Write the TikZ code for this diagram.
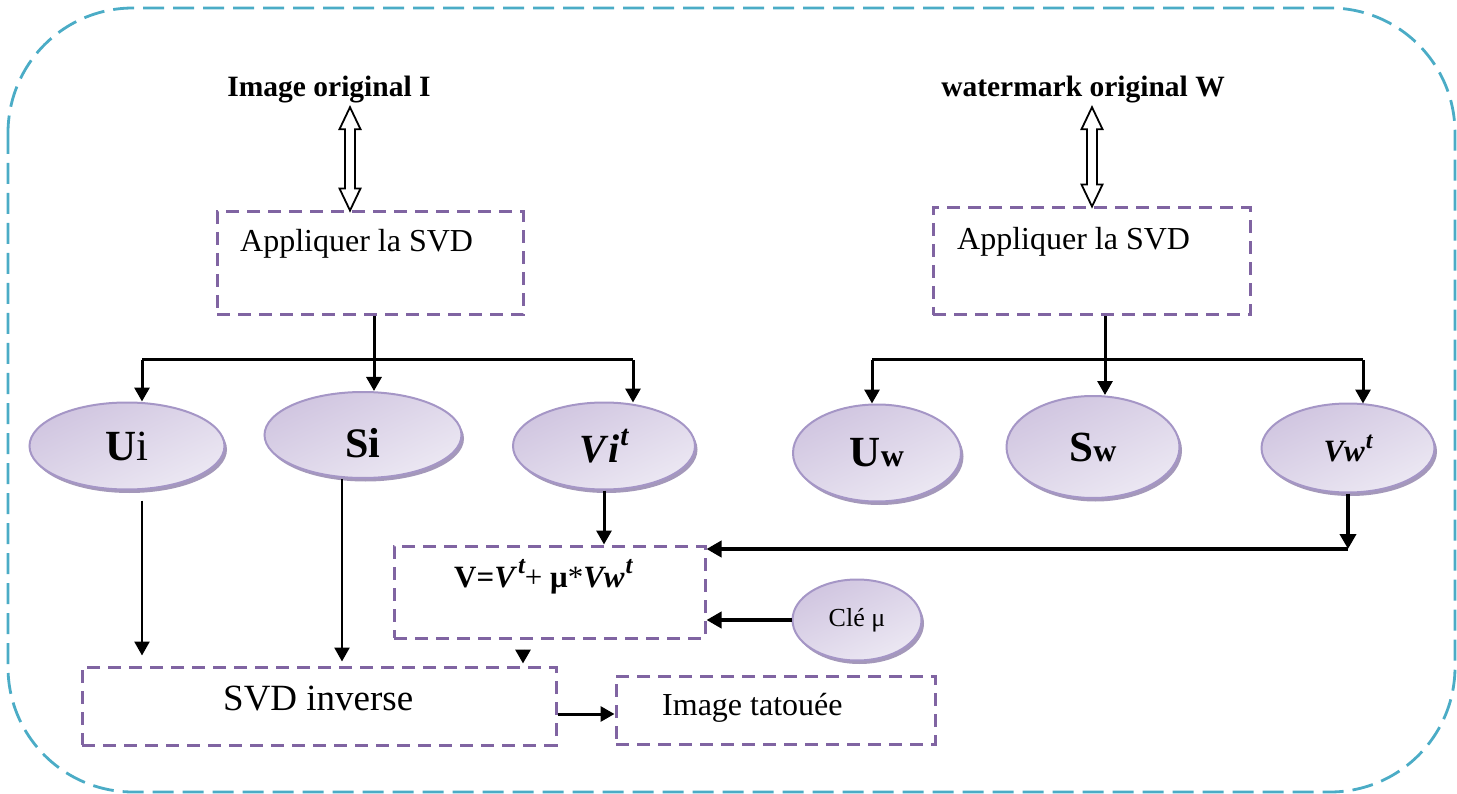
\documentclass[tikz,border=0pt]{standalone}
\usepackage{fontspec}
\setmainfont{Liberation Serif}
\usetikzlibrary{arrows.meta,shapes.geometric,shadows,calc}
\definecolor{frameblue}{HTML}{4BACC6}
\definecolor{boxpurple}{HTML}{8064A2}
\definecolor{elltop}{HTML}{D0C5E0}
\definecolor{ellbot}{HTML}{ECE8F3}
\definecolor{elledge}{HTML}{A596C6}
\definecolor{ellshade}{HTML}{9A8DB2}

% hollow double-headed arrow between two points (top, bottom)
\newcommand\hollowdbl[2]{%
  \draw[hollow] let \p1=#1, \p2=#2 in
    (\x1,\y1) -- (\x1+10.5pt,\y1-22pt) -- (\x1+5pt,\y1-22pt)
    -- (\x1+5pt,\y2+22pt) -- (\x1+10.5pt,\y2+22pt) -- (\x1,\y2)
    -- (\x1-10.5pt,\y2+22pt) -- (\x1-5pt,\y2+22pt)
    -- (\x1-5pt,\y1-22pt) -- (\x1-10.5pt,\y1-22pt) -- cycle;}
% bold italic superscript t
\newcommand\supt[1]{\raisebox{0.42em}{\fontsize{#1}{#1}\selectfont\bfseries\itshape t}}

\begin{document}
\begin{tikzpicture}[x=1pt,y=-1pt,
  headtxt/.style={font=\fontsize{29.5}{34}\selectfont\bfseries, inner sep=3.5pt},
  boxtxt/.style={font=\fontsize{32}{38}\selectfont, inner sep=0pt},
  stepbox/.style={draw=boxpurple, line width=3pt, dash pattern=on 13pt off 8pt, inner sep=0pt},
  svdell/.style={ellipse, draw=elledge, line width=2pt, inner sep=0pt,
    top color=elltop, bottom color=ellbot, shading angle=25,
    drop shadow={shadow xshift=2.5pt, shadow yshift=-3.5pt, fill=ellshade, opacity=0.9}},
  bus/.style={line width=3pt},
  arr/.style={line width=3pt, -{Triangle[width=15pt,length=14pt]}},
  thinarr/.style={line width=2.5pt, -{Triangle[width=15pt,length=14pt]}},
  thickarr/.style={line width=4pt, -{Triangle[width=16pt,length=15pt]}},
  hollow/.style={line width=1.8pt, draw=black, fill=white, line join=miter}]

\useasboundingbox (0,0) rectangle (1457,794);

% outer frame
\draw[frameblue, line width=2.8pt, dash pattern=on 21pt off 9pt, rounded corners=125pt]
  (8,8) rectangle (1455,792);

% inputs
\node[headtxt, anchor=base] (t1) at (329,97) {Image original I};
\node[headtxt, anchor=base] (t2) at (1083,97) {watermark original W};

% SVD boxes
\node[stepbox, minimum width=306pt, minimum height=103pt] (b1) at (370,263.5) {};
\node[boxtxt, anchor=base west] (b1t) at (240,252) {Appliquer la SVD};
\node[stepbox, minimum width=317pt, minimum height=107pt] (b2) at (1091.5,261.5) {};
\node[boxtxt, anchor=base west] (b2t) at (957,250) {Appliquer la SVD};

\coordinate (ax1) at (350,0);
\coordinate (ax2) at (1092,0);
\hollowdbl{(t1.south -| ax1)}{(b1.north -| ax1)}
\hollowdbl{(t2.south -| ax2)}{(b2.north -| ax2)}

% decomposition of the image
\node[svdell, minimum width=195pt, minimum height=87pt] (ui) at (127,446)
  {\fontsize{43}{50}\selectfont\textbf{U}i};
\node[svdell, minimum width=197pt, minimum height=86pt] (si) at (363,435)
  {\raisebox{-8pt}[\height][\depth]{\fontsize{42}{48}\selectfont\bfseries Si}};
\node[svdell, minimum width=182pt, minimum height=87pt] (vi) at (604,446)
  {\fontsize{40}{46}\selectfont\bfseries\itshape V\kern2pt i\kern1pt\supt{29}};

% decomposition of the watermark
\node[svdell, minimum width=168pt, minimum height=97pt] (uw) at (877,453)
  {\fontsize{43}{50}\selectfont\textbf{U}{\fontsize{32}{38}\selectfont\bfseries w}};
\node[svdell, minimum width=173pt, minimum height=102pt] (sw) at (1093,447)
  {\fontsize{43}{50}\selectfont\textbf{S}{\fontsize{32}{38}\selectfont\bfseries w}};
\node[svdell, minimum width=173pt, minimum height=89pt] (vw) at (1348,448)
  {\fontsize{31}{36}\selectfont\bfseries\itshape Vw\kern1pt\supt{24}};

% embedding and reconstruction
\node[stepbox, minimum width=311pt, minimum height=92pt] (vbox) at (549.5,592) {};
\node[anchor=base west, inner sep=0pt, font=\fontsize{31}{36}\selectfont] (vf) at (454,587)
  {\textbf{V=}\textbf{\textit{V}}\kern1pt\supt{25}+ \textbf{μ}*\textbf{\textit{Vw}}\kern1pt\supt{25}};
\node[svdell, minimum width=129pt, minimum height=81pt] (cle) at (857,620)
  {\fontsize{26}{30}\selectfont Clé μ};
\node[stepbox, minimum width=474pt, minimum height=78pt] (svdinv) at (319,706) {};
\node[anchor=base west, inner sep=0pt, font=\fontsize{37}{44}\selectfont] (svdinvt) at (223,710) {SVD inverse};
\node[stepbox, minimum width=319pt, minimum height=68pt] (tat) at (775.5,710) {};
\node[boxtxt, anchor=base west] (tatt) at (662,715) {Image tatouée};

% distribution from the image SVD
\coordinate (lbus) at (142,360);
\coordinate (lbusr) at (633,360);
\coordinate (lmid) at (374,360);
\draw[bus] (lbus) -- (lbusr);
\draw[arr] (b1.south -| lmid) -- (lmid |- si.north);
\draw[arr] (lbus) -- (lbus |- ui.north);
\draw[arr] (lbusr) -- ($(lbusr |- vi.north)+(0,1)$);

% distribution from the watermark SVD
\coordinate (rbus) at (872,360);
\coordinate (rbusr) at (1363,360);
\coordinate (rmid) at (1105,360);
\draw[bus] (rbus) -- (rbusr);
\draw[arr] (b2.south -| rmid) -- (rmid |- sw.north);
\draw[arr] (rbus) -- (rbus |- uw.north);
\draw[arr] (rbusr) -- ($(rbusr |- vw.north)+(0,1)$);

% towards the inverse SVD
\coordinate (sx) at (342,0);
\coordinate (vx) at (523,0);
\draw[thinarr, shorten <=10pt, shorten >=10pt] (ui.south -| lbus) -- (svdinv.north -| lbus);
\draw[thinarr, shorten >=4pt] (si.south -| sx) -- (svdinv.north -| sx);
\draw[arr] (vi.south) -- (vi.south |- vbox.north);
\draw[arr, shorten <=10pt, shorten >=2pt] (vbox.south -| vx) -- (svdinv.north -| vx);

% watermark and key into the combination
\coordinate (vwc) at (vw.south |- 0,549);
\draw[thickarr] (vw.south) -- (vwc);
\draw[thickarr] (vwc) -- (vwc -| vbox.east);
\draw[thickarr] (cle.west) -- (cle.west -| vbox.east);

% output
\coordinate (so) at ($(svdinv.east)+(0,8)$);
\draw[arr] (so) -- (so -| tat.west);

\end{tikzpicture}
\end{document}
